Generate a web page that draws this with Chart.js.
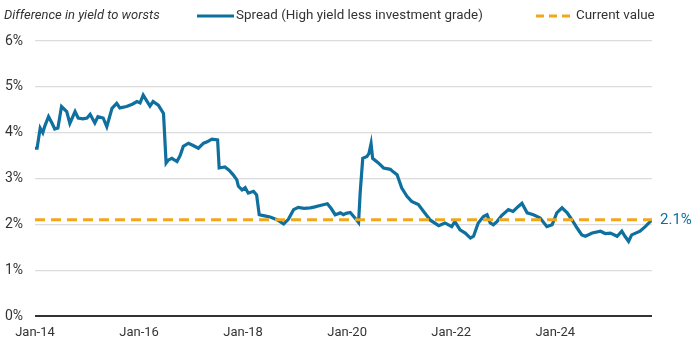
<!DOCTYPE html>
<html>
<head>
<meta charset="utf-8">
<script src="https://cdn.jsdelivr.net/npm/chart.js@4"></script>
<style>
  html, body { margin: 0; padding: 0; background: #fff; }
  #wrap { width: 700px; height: 351px; }
</style>
</head>
<body>
<div id="wrap"><canvas id="spreadChart" width="700" height="351"></canvas></div>
<script>
// Decimal years (Jan-14 = 2014.00)
const years = [
    2014.00, 2014.04, 2014.10, 2014.15, 2014.19, 2014.26, 2014.33, 2014.38, 2014.44, 2014.51,
    2014.61, 2014.67, 2014.77, 2014.83, 2014.92, 2015.00, 2015.06, 2015.15, 2015.21, 2015.31,
    2015.38, 2015.48, 2015.57, 2015.63, 2015.76, 2015.87, 2015.96, 2016.02, 2016.08, 2016.21,
    2016.27, 2016.37, 2016.47, 2016.52, 2016.56, 2016.63, 2016.73, 2016.79, 2016.85, 2016.95,
    2017.04, 2017.14, 2017.24, 2017.31, 2017.40, 2017.51, 2017.54, 2017.65, 2017.73, 2017.81,
    2017.88, 2017.91, 2017.98, 2018.04, 2018.10, 2018.20, 2018.26, 2018.31, 2018.39, 2018.52,
    2018.65, 2018.78, 2018.87, 2018.97, 2019.06, 2019.17, 2019.29, 2019.38, 2019.48, 2019.62,
    2019.69, 2019.77, 2019.87, 2019.93, 2019.98, 2020.06, 2020.15, 2020.22, 2020.25, 2020.30,
    2020.38, 2020.42, 2020.46, 2020.49, 2020.60, 2020.70, 2020.83, 2020.88, 2020.96, 2021.05,
    2021.15, 2021.24, 2021.37, 2021.47, 2021.60, 2021.76, 2021.88, 2022.01, 2022.07, 2022.17,
    2022.27, 2022.37, 2022.43, 2022.52, 2022.62, 2022.69, 2022.75, 2022.81, 2022.88, 2022.97,
    2023.10, 2023.19, 2023.29, 2023.36, 2023.46, 2023.58, 2023.71, 2023.84, 2023.94, 2024.03,
    2024.13, 2024.23, 2024.32, 2024.42, 2024.51, 2024.58, 2024.71, 2024.87, 2024.96, 2025.06,
    2025.19, 2025.28, 2025.34, 2025.41, 2025.47, 2025.63, 2025.73, 2025.86
];

// Spread (high yield less investment grade), %
const spread = [
    3.66, 3.66, 4.10, 4.00, 4.15, 4.35, 4.20, 4.08, 4.10, 4.57,
    4.46, 4.20, 4.46, 4.32, 4.30, 4.32, 4.40, 4.21, 4.35, 4.32,
    4.13, 4.53, 4.64, 4.54, 4.57, 4.62, 4.68, 4.65, 4.82, 4.58,
    4.68, 4.60, 4.42, 3.34, 3.40, 3.44, 3.37, 3.50, 3.70, 3.77,
    3.72, 3.66, 3.77, 3.80, 3.86, 3.84, 3.23, 3.25, 3.18, 3.08,
    2.97, 2.83, 2.75, 2.80, 2.68, 2.72, 2.64, 2.21, 2.19, 2.16,
    2.10, 2.01, 2.11, 2.32, 2.37, 2.35, 2.36, 2.38, 2.41, 2.45,
    2.35, 2.21, 2.25, 2.21, 2.24, 2.26, 2.14, 2.04, 2.68, 3.44,
    3.48, 3.55, 3.76, 3.44, 3.34, 3.23, 3.20, 3.15, 3.08, 2.79,
    2.61, 2.50, 2.43, 2.28, 2.09, 1.97, 2.03, 1.95, 2.06, 1.88,
    1.81, 1.70, 1.74, 2.03, 2.17, 2.21, 2.03, 1.99, 2.06, 2.19,
    2.32, 2.28, 2.39, 2.46, 2.25, 2.21, 2.14, 1.95, 1.99, 2.25,
    2.36, 2.25, 2.10, 1.92, 1.77, 1.74, 1.81, 1.85, 1.80, 1.81,
    1.74, 1.85, 1.74, 1.63, 1.77, 1.85, 1.95, 2.10
];

const currentValue = 2.1;

// x-axis ticks and their labels
const xTicks = [2014, 2016, 2018, 2020, 2022, 2024];
const xTickLabels = ['Jan-14', 'Jan-16', 'Jan-18', 'Jan-20', 'Jan-22', 'Jan-24'];
const yTicks = [0, 1, 2, 3, 4, 5, 6];

const BLUE = '#0f6f9f';
const ORANGE = '#f0a81a';
const TEXT = '#333333';
const FONT = 'Roboto, "Liberation Sans", Arial, sans-serif';

const xMin = years[0];
const xMax = years[years.length - 1];

// Header row: italic axis note plus the two legend entries
const headerPlugin = {
    id: 'header',
    afterDraw(chart) {
        const ctx = chart.ctx;
        const y = 16;
        ctx.save();
        ctx.textBaseline = 'middle';
        ctx.fillStyle = TEXT;
        ctx.font = 'italic 13px ' + FONT;
        ctx.fillText('Difference in yield to worsts', 4, y);

        ctx.font = '13.4px ' + FONT;
        // blue solid swatch
        ctx.strokeStyle = BLUE;
        ctx.lineWidth = 3;
        ctx.setLineDash([]);
        ctx.beginPath();
        ctx.moveTo(197, y);
        ctx.lineTo(234, y);
        ctx.stroke();
        ctx.fillText('Spread (High yield less investment grade)', 236, y);

        // orange dashed swatch
        ctx.strokeStyle = ORANGE;
        ctx.setLineDash([8, 5]);
        ctx.beginPath();
        ctx.moveTo(536, y);
        ctx.lineTo(571, y);
        ctx.stroke();
        ctx.setLineDash([]);
        ctx.fillText('Current value', 576, y);

        // value tag at the right end
        const yPix = chart.scales.y.getPixelForValue(currentValue);
        ctx.fillStyle = BLUE;
        ctx.font = '15px ' + FONT;
        ctx.fillText(currentValue.toFixed(1) + '%', chart.chartArea.right + 8, yPix);
        ctx.restore();
    }
};

new Chart(document.getElementById('spreadChart'), {
    type: 'line',
    data: {
        datasets: [
            {
                label: 'Current value',
                data: [{ x: xMin, y: currentValue }, { x: xMax, y: currentValue }],
                borderColor: ORANGE,
                borderWidth: 3,
                borderDash: [10, 6],
                pointRadius: 0,
                order: 0
            },
            {
                label: 'Spread (High yield less investment grade)',
                data: years.map((t, i) => ({ x: t, y: spread[i] })),
                borderColor: BLUE,
                borderWidth: 3.2,
                pointRadius: 0,
                tension: 0,
                order: 1
            }
        ]
    },
    options: {
        responsive: false,
        animation: false,
        events: [],
        layout: { padding: { top: 41, right: 48, left: 0, bottom: 0 } },
        plugins: {
            legend: { display: false },
            tooltip: { enabled: false }
        },
        scales: {
            x: {
                type: 'linear',
                min: xMin,
                max: xMax,
                afterBuildTicks: s => { s.ticks = xTicks.map(v => ({ value: v })); },
                afterFit: s => { s.height = 35; },
                grid: { display: false, drawTicks: false },
                border: { display: false },
                ticks: {
                    padding: 9,
                    color: TEXT,
                    font: { family: FONT, size: 13 },
                    maxRotation: 0,
                    autoSkip: false,
                    callback: v => xTickLabels[xTicks.indexOf(v)]
                }
            },
            y: {
                min: 0,
                max: 6,
                afterBuildTicks: s => { s.ticks = yTicks.map(v => ({ value: v })); },
                afterFit: s => { s.width = 35; },
                grid: {
                    drawTicks: false,
                    color: c => c.tick.value === 0 ? '#333333' : '#dcdcdc',
                    lineWidth: c => c.tick.value === 0 ? 2 : 1.3
                },
                border: { display: false },
                ticks: {
                    padding: 12,
                    color: TEXT,
                    font: { family: FONT, size: 14 },
                    callback: v => v + '%'
                }
            }
        }
    },
    plugins: [headerPlugin]
});
</script>
</body>
</html>
